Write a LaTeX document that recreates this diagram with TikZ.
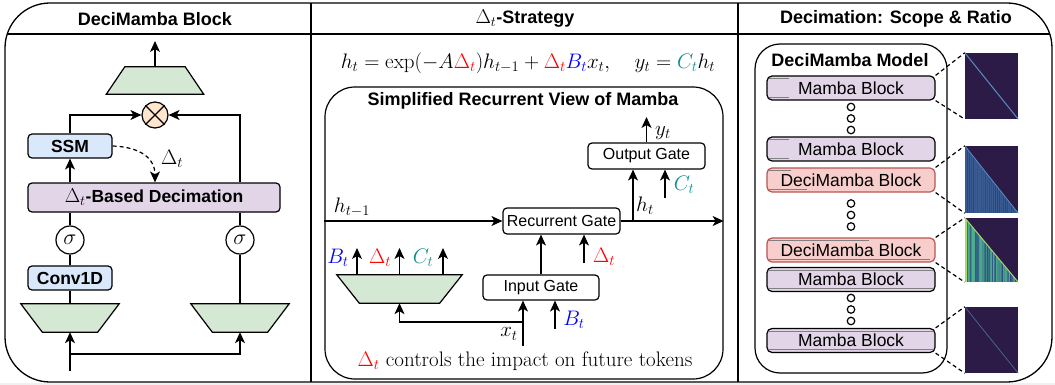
\documentclass[tikz,border=0pt]{standalone}
\usepackage{fix-cm}
\usepackage{fontspec}
\setsansfont{Liberation Sans}
\usetikzlibrary{arrows.meta,calc}
\definecolor{grnF}{HTML}{D5E8D4}
\definecolor{bluF}{HTML}{DAE8FC}
\definecolor{purF}{HTML}{E1D5E7}
\definecolor{orgF}{HTML}{FFE6CC}
\definecolor{redF}{HTML}{F8CECC}
\definecolor{redD}{HTML}{B85450}
\definecolor{dRed}{HTML}{FF0000}
\definecolor{dBlu}{HTML}{0000FF}
\definecolor{dTea}{HTML}{138C8C}
\definecolor{hmBg}{HTML}{2D1B47}
\definecolor{hmLine}{HTML}{5A8CC0}
\definecolor{hmB1}{HTML}{3A5A92}
\definecolor{hmB2}{HTML}{26386C}
\definecolor{hmC1}{HTML}{2A4C85}
\definecolor{hmC2}{HTML}{4FAE8C}
\definecolor{hmC3}{HTML}{A6D86A}
\definecolor{bgGray}{HTML}{F0F0F0}
\newcommand{\bigD}{{\fontsize{20}{22}\selectfont$\Delta_t$}}
\begin{document}
\begin{tikzpicture}[x=1pt,y=-1pt,
  lw/.style={line width=1.2pt},
  arr/.style={lw,-{Stealth[length=11pt,width=10pt,inset=3pt]}},
  ttl/.style={font=\fontsize{18}{21}\selectfont\sffamily\bfseries,inner sep=0pt},
  bbox/.style={draw,lw,rounded corners=4pt,font=\fontsize{17.5}{20}\selectfont\sffamily\bfseries,inner sep=0pt},
  gbox/.style={draw,lw,rounded corners=4pt,fill=white,font=\fontsize{16}{19}\selectfont\sffamily,inner sep=0pt},
  mlbl/.style={font=\fontsize{21}{24}\selectfont,inner sep=0pt},
  tzph/.style={inner sep=0pt,draw=none},
  mblk/.style={draw,lw,rounded corners=5pt,fill=purF,minimum width=168pt,minimum height=24pt,inner sep=0pt,font=\fontsize{17.5}{20}\selectfont\sffamily},
  dblk/.style={mblk,fill=redF,draw=redD},
  dotc/.style={circle,draw,line width=1.2pt,minimum size=7.5pt,inner sep=0pt},
  gl/.style={line width=1.1pt,black!50},
  cn/.style={lw,dash pattern=on 4pt off 3pt},
  hm/.style={inner sep=0pt,minimum width=53pt,fill=hmBg},
  sig/.style={circle,draw,lw,fill=white,minimum size=28pt,inner sep=0pt,font=\fontsize{22}{24}\selectfont}
]
\useasboundingbox (0,0) rectangle (1055,385);
\fill[white] (0,0) rectangle (1055,385);
\fill[bgGray] (0,383) rectangle (1055,385);
% frame
\draw[line width=1.3pt, rounded corners=45pt] (5,3) rectangle (1052,382);
\draw[lw] (311,3) -- (311,382);
\draw[lw] (738,3) -- (738,382);
\draw[lw] (7.2,34) -- (1049.8,34);

% ===== Left panel =====
\node[ttl] (tL) at (155,19) {DeciMamba Block};
\node[tzph, minimum width=97pt, minimum height=27pt] (tzTop) at (155,80.5) {};
\draw[lw, fill=grnF] (tzTop.south west) -- (tzTop.south east) -- ([xshift=-18.5pt]tzTop.north east) -- ([xshift=18.5pt]tzTop.north west) -- cycle;
\coordinate (outTop) at (155,41);
\draw[arr] (tzTop.north) -- (outTop);
\node[circle, draw, lw, fill=orgF, minimum size=26pt, inner sep=0pt] (mul) at (155,115) {};
\draw[lw] (mul.north west) -- (mul.south east) (mul.north east) -- (mul.south west);
\node[bbox, fill=bluF, minimum width=84pt, minimum height=24pt] (ssm) at (70,146) {SSM};
\node[bbox, fill=purF, minimum width=252pt, minimum height=29pt] (dec) at (154,197.5) {\bigD-Based Decimation};
\node[sig] (sL) at (70,240) {$\sigma$};
\node[sig] (sR) at (240,240) {$\sigma$};
\node[bbox, fill=bluF, minimum width=84pt, minimum height=24pt] (conv) at (70,278) {Conv1D};
\node[tzph, minimum width=98pt, minimum height=28pt] (tzL) at (70,318) {};
\draw[lw, fill=grnF] (tzL.north west) -- (tzL.north east) -- ([xshift=-21.5pt]tzL.south east) -- ([xshift=21.5pt]tzL.south west) -- cycle;
\node[tzph, minimum width=98pt, minimum height=28pt] (tzR) at (240,318) {};
\draw[lw, fill=grnF] (tzR.north west) -- (tzR.north east) -- ([xshift=-21.5pt]tzR.south east) -- ([xshift=21.5pt]tzR.south west) -- cycle;

\draw[arr] (ssm.north) |- (mul.west);
\draw[arr] (dec.north -| sR.north) |- (mul.east);
\draw[arr] (dec.north -| ssm.south) -- (ssm.south);
\draw[lw, dash pattern=on 4pt off 3pt, -{Stealth[length=11pt,width=10pt,inset=3pt]}] (ssm.east) .. controls (140,147) and (155,158) .. (dec.north -| mul.south);
\node[mlbl] (dLbl) at (172,159) {$\Delta_t$};
\draw[lw] (dec.south -| sL.north) -- (sL.north);
\draw[lw] (sL.south) -- (conv.north);
\draw[lw] (conv.south) -- (tzL.north);
\draw[lw] (dec.south -| sR.north) -- (sR.north);
\draw[lw] (sR.south) -- (tzR.north);
\coordinate (inL) at (70,371);
\coordinate (inB) at (70,354);
\draw[arr] (inL) -- (tzL.south);
\draw[arr] (inB) -| (tzR.south);

% ===== Middle panel =====
\node[ttl] (tM) at (525,19) {\bigD-Strategy};
\node[font=\fontsize{21}{24}\selectfont, inner sep=0pt] (eq) at (528,63) {$h_t = \exp(-A\textcolor{dRed}{\Delta_t})h_{t-1} + \textcolor{dRed}{\Delta_t}\textcolor{dBlu}{B_t}x_t,\quad y_t = \textcolor{dTea}{C_t}h_t$};
\node[draw, lw, rounded corners=30pt, minimum width=398pt, minimum height=292pt, inner sep=0pt] (rv) at (524,233) {};
\node[ttl] (tRV) at (523,101) {Simplified Recurrent View of Mamba};
\node[gbox, minimum width=117pt, minimum height=26pt] (og) at (646.5,156) {Output Gate};
\node[gbox, minimum width=117pt, minimum height=26pt] (rg) at (561.5,221) {Recurrent Gate};
\node[gbox, minimum width=116pt, minimum height=25pt] (ig) at (541,287.5) {Input Gate};
\node[tzph, minimum width=125pt, minimum height=28pt] (tzM) at (399.5,289) {};
\draw[lw, fill=grnF] (tzM.north west) -- (tzM.north east) -- ([xshift=-22.5pt]tzM.south east) -- ([xshift=22.5pt]tzM.south west) -- cycle;

\draw[arr] (rv.west |- rg.west) -- (rg.west);
\node[mlbl] (hPrev) at (352,207) {$h_{t-1}$};
\draw[arr] (rg.east) -- (rv.east |- rg.east);
\node[mlbl] (hCur) at (645,206) {$h_t$};
\coordinate (hb) at (633,221);
\draw[arr] (hb) -- (hb |- og.south);
\coordinate (ctS) at (665,198);
\draw[arr] (ctS) -- (ctS |- og.south);
\node[mlbl] (ctL) at (684,185) {$\textcolor{dTea}{C_t}$};
\coordinate (ytE) at (646.5,117);
\draw[arr] (og.north) -- (ytE);
\node[mlbl] (ytL) at (663,133) {$y_t$};
\draw[arr] (ig.north) -- (ig.north |- rg.south);
\coordinate (dS) at (584,263);
\draw[arr] (dS) -- (dS |- rg.south);
\node[mlbl] (dL2) at (604,257) {$\textcolor{dRed}{\Delta_t}$};
\coordinate (xS) at (523,346);
\draw[arr] (xS) -- (xS |- ig.south);
\node[mlbl] (xL) at (509,334) {$x_t$};
\coordinate (xb) at (523,322);
\draw[arr] (xb) -| (tzM.south);
\coordinate (bS) at (555,329);
\draw[arr] (bS) -- (bS |- ig.south);
\node[mlbl] (bL) at (574,320) {$\textcolor{dBlu}{B_t}$};
\coordinate (o1) at (357,248);
\coordinate (o2) at (399.5,248);
\coordinate (o3) at (443,248);
\draw[arr] (o1 |- tzM.north) -- (o1);
\draw[arr] (o2 |- tzM.north) -- (o2);
\draw[arr] (o3 |- tzM.north) -- (o3);
\node[mlbl] (bL2) at (338,258) {$\textcolor{dBlu}{B_t}$};
\node[mlbl] (dL3) at (380,258) {$\textcolor{dRed}{\Delta_t}$};
\node[mlbl] (cL2) at (423,258) {$\textcolor{dTea}{C_t}$};
\node[font=\fontsize{21}{24}\selectfont, inner sep=0pt] (foot) at (525,361) {$\textcolor{dRed}{\Delta_t}$ controls the impact on future tokens};

% ===== Right panel =====
\node[ttl] (tR) at (896,19) {Decimation: Scope \& Ratio};
\node[draw, lw, rounded corners=25pt, minimum width=192pt, minimum height=329pt, inner sep=0pt] (dm) at (851,208.5) {};
\node[ttl] (tDM) at (850,60) {DeciMamba Model};
\node[mblk] (b1) at (851,88) {Mamba Block};
\node[mblk] (b2) at (851,149) {Mamba Block};
\node[dblk] (b3) at (851,180) {DeciMamba Block};
\node[dblk] (b4) at (851,250) {DeciMamba Block};
\node[mblk] (b5) at (851,279.5) {Mamba Block};
\node[mblk] (b6) at (851,340.5) {Mamba Block};
\foreach \n/\y in {d1/107,d2/118.5,d3/130,d4/203.5,d5/215,d6/226.5,d7/298,d8/309.5,d9/321}
  \node[dotc] (\n) at (851,\y) {};
% gray lines inside blocks
\draw[gl] ([xshift=3pt,yshift=-3.5pt]b1.north west) -- ++(20,0);
\draw[gl] ([xshift=3pt,yshift=3.5pt]b1.south west) -- ++(20,0);
\draw[gl] ([xshift=3pt,yshift=-3.5pt]b2.north west) -- ++(20,0);
\draw[gl] ([xshift=3pt,yshift=3.5pt]b2.south west) -- ++(20,0);
\draw[gl] ([xshift=3pt,yshift=-3.5pt]b3.north west) -- ++(22,0);
\draw[gl] ([xshift=3pt,yshift=3.5pt]b3.south west) -- ++(38,0);
\draw[gl] ([xshift=3pt,yshift=-3.5pt]b4.north west) -- ++(100,0);
\draw[gl] ([xshift=3pt,yshift=3.5pt]b4.south west) -- ++(161,0);
\draw[gl] ([xshift=3pt,yshift=-3.5pt]b5.north west) -- ([xshift=-3pt,yshift=-3.5pt]b5.north east);
\draw[gl] ([xshift=3pt,yshift=3.5pt]b5.south west) -- ([xshift=-3pt,yshift=3.5pt]b5.south east);
\draw[gl] ([xshift=3pt,yshift=-3.5pt]b6.north west) -- ([xshift=-3pt,yshift=-3.5pt]b6.north east);
\draw[gl] ([xshift=3pt,yshift=3.5pt]b6.south west) -- ([xshift=-3pt,yshift=3.5pt]b6.south east);

% heatmaps
\node[hm, minimum height=66pt] (h1) at (991.5,86) {};
\draw[line width=1pt, hmLine] (h1.north west) -- (h1.south east);
\node[hm, minimum height=67pt] (h2) at (991.5,179.5) {};
\node[hm, minimum height=64pt] (h3) at (991.5,250) {};
\node[hm, minimum height=66pt] (h4) at (991.5,340) {};
\draw[line width=0.7pt, hmLine!70!hmBg] (h4.north west) -- (h4.south east);
\pgfmathsetseed{7}
\begin{scope}
\clip (h2.north west) -- (h2.south east) -- (h2.south west) -- cycle;
\fill[hmB1] (h2.north west) rectangle (h2.south east);
\foreach \i in {0,...,26} {
  \pgfmathtruncatemacro\p{100*rnd}
  \fill[hmB1!\p!hmB2, opacity=0.7] (965+2*\i,146) rectangle ++(1,67);
}
\end{scope}
\draw[line width=0.8pt, hmLine] (h2.north west) -- (h2.south east);
\begin{scope}
\clip (h3.north west) -- (h3.south east) -- (h3.south west) -- cycle;
\foreach \i in {0,...,52} {
  \pgfmathtruncatemacro\p{100*rnd}
  \fill[hmC2!\p!hmC1] (965+\i,218) rectangle ++(1.05,64);
}
\fill[hmC3] (965,218) rectangle (967,282);
\fill[hmC2] (972,218) rectangle (973.5,282);
\end{scope}
\draw[line width=1pt, hmC3] (h3.north west) -- (h3.south east);

\draw[cn] (b1.north east) -- (h1.north west);
\draw[cn] (b1.south east) -- (h1.south west);
\draw[cn] (b3.north east) -- (h2.north west);
\draw[cn] (b3.south east) -- (h2.south west);
\draw[cn] (b4.north east) -- (h3.north west);
\draw[cn] (b4.south east) -- (h3.south west);
\draw[cn] (b6.north east) -- (h4.north west);
\draw[cn] (b6.south east) -- (h4.south west);
\end{tikzpicture}
\end{document}
